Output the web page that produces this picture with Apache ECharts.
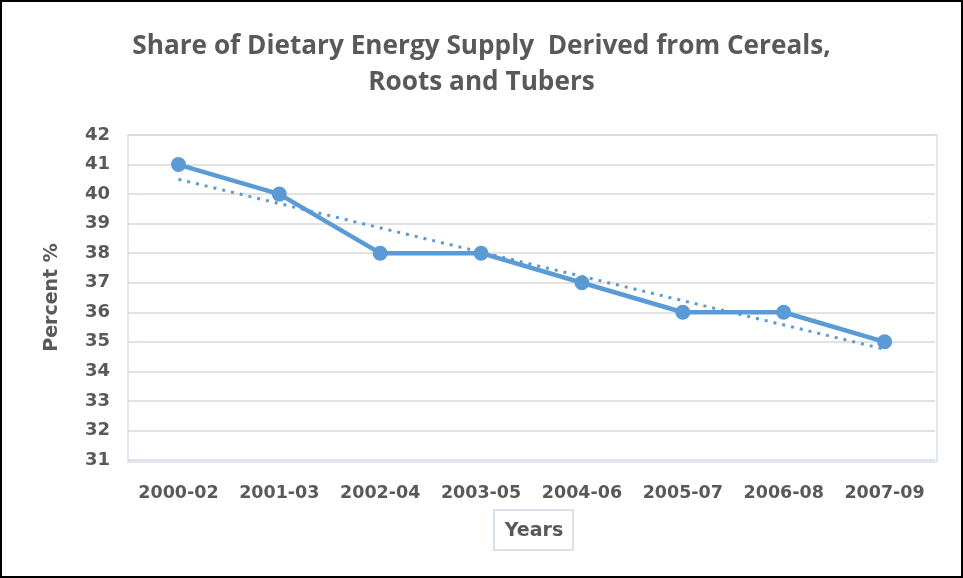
<!DOCTYPE html>
<html><head><meta charset="utf-8">
<script src="https://cdn.jsdelivr.net/npm/echarts@6/dist/echarts.min.js"></script>
<style>
html,body{margin:0;padding:0;background:#fff;}
#c{width:963px;height:578px;box-sizing:border-box;border:2px solid #000;}
</style></head>
<body><div id="c"></div>
<script>
const categories = ['2000-02','2001-03','2002-04','2003-05','2004-06','2005-07','2006-08','2007-09'];
const shareValues = [41, 40, 38, 38, 37, 36, 36, 35];
const trendEndpoints = [40.5, 34.75];
const yTicks = [31, 42, 1];

const chart = echarts.init(document.getElementById('c'), null, {renderer:'canvas'});
const font = "'DejaVu Sans', sans-serif";
const grey = '#595959';
const blue = '#5b9bd5';
chart.setOption({
  animation:false,
  title:{
    text:'Share of Dietary Energy Supply  Derived from Cereals,\nRoots and Tubers',
    left:'center', top:22,
    textStyle:{fontFamily:"'Open Sans', sans-serif", fontSize:26.2, fontWeight:'bold', color:grey, lineHeight:36}
  },
  grid:{left:126, right:26, top:133, bottom:116},
  xAxis:{
    type:'category', data:categories, boundaryGap:true,
    axisLine:{show:false}, axisTick:{show:false},
    axisLabel:{color:grey, fontFamily:font, fontWeight:'bold', fontSize:17.5, margin:24, interval:0},
    splitLine:{show:false}
  },
  yAxis:{
    type:'value', min:yTicks[0], max:yTicks[1], interval:yTicks[2],
    axisLine:{show:false}, axisTick:{show:false},
    axisLabel:{color:grey, fontFamily:font, fontWeight:'bold', fontSize:18, margin:18},
    splitLine:{lineStyle:{color:'#d9d9d9', width:1.5}},
    name:'Percent %', nameLocation:'middle', nameGap:66, nameRotate:90,
    nameTextStyle:{color:grey, fontFamily:font, fontWeight:'bold', fontSize:19}
  },
  graphic:[
    {type:'rect', shape:{x:126, y:133, width:809, height:327}, style:{fill:'none', stroke:'#d6e0f0', lineWidth:1.5}, silent:true, z:-1},
    {type:'rect', shape:{x:492, y:508, width:79, height:40}, style:{fill:'#fff', stroke:'#d6e0f0', lineWidth:2}},
    {type:'text', x:532, y:529, style:{text:'Years', fill:grey, font:"bold 19px 'DejaVu Sans', sans-serif", textAlign:'center', textVerticalAlign:'middle'}}
  ],
  series:[
    {type:'line', data:shareValues, symbol:'circle', symbolSize:15,
     lineStyle:{color:blue, width:4.5}, itemStyle:{color:blue}, z:3},
    {type:'line', data:[[categories[0], trendEndpoints[0]],[categories[categories.length-1], trendEndpoints[1]]],
     symbol:'none', lineStyle:{color:blue, width:3, type:[3,6]}, z:2}
  ]
});
</script></body></html>
